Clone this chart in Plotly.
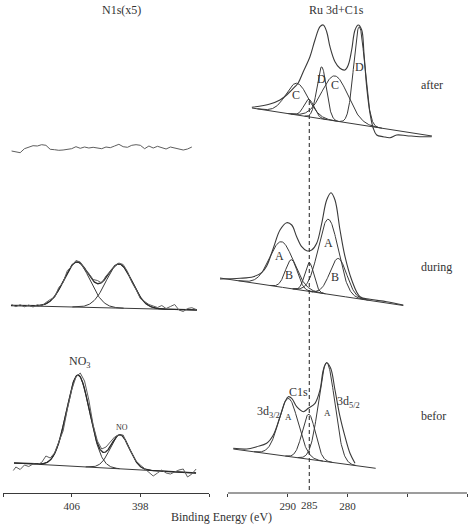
import numpy as np
import plotly.graph_objects as go

W, H = 469, 530
LINE = "#3a3a3a"
RAW = "#5e5e5e"
FONT = "Liberation Serif"

# ---------------- N1s (x5) panel : binding energy (eV) / intensity ----------------
n1s_after_E = np.arange(413.0, 391.9, -0.5)
n1s_after_I = [342, 341.3, 340.3, 344.3, 345.7, 347.3, 347, 348.3, 347.7, 343.7, 343.3,
               342.7, 343, 343.7, 344.3, 346.3, 344.7, 346, 345, 345.7, 345, 344.3,
               346, 345.3, 347, 348.7, 346.3, 345.7, 347.7, 348.3, 347.7, 344.3, 347,
               345, 346.7, 345.3, 344, 346, 345, 343.3, 343, 344, 346]

n1s_during_E = np.arange(413.0, 391.4, -0.5)
n1s_during_I = [188.5, 186.4, 188.3, 186.2, 188.0, 186.0, 188.3, 187.0, 190.5, 193.5,
                195.5, 205.5, 210.5, 222.5, 226.5, 232.5, 231, 224, 219.5, 213.5,
                212.5, 210, 217, 222, 226.5, 230, 228.5, 221.5, 211, 203.5, 194.5,
                191.5, 188.5, 187, 185.5, 187.5, 184.5, 186.5, 188.5, 183, 181.5,
                184.5, 185.3, 183.5]
n1s_during_base_E = [413.07, 391.4]
n1s_during_base_I = [187.5, 183.0]
n1s_during_pk_c = [405.38, 400.48]
n1s_during_pk_h = [45.0, 44.0]
n1s_during_pk_s = [1.51, 1.51]

n1s_befor_E = np.concatenate([[412.8], np.arange(412.5, 391.4, -0.5)])
n1s_befor_I = [22.5, 26, 23.5, 28, 26.5, 29, 28.5, 30.5, 37, 35, 40, 52, 62, 84, 103,
               116, 120, 112, 93, 68, 52, 44, 46, 51, 56, 58, 58, 48, 40, 32, 28, 24,
               21, 17, 20, 23, 20, 19, 21, 23, 24, 16, 19, 24]
n1s_befor_base_E = [412.72, 391.51]
n1s_befor_base_I = [30.0, 20.0]
n1s_befor_pk_c = [405.26, 400.37]
n1s_befor_pk_h = [91.5, 34.0]
n1s_befor_pk_s = [1.34, 1.11]

# ---------------- Ru 3d + C1s panel ----------------
ru_after_E = [296.0, 292.97, 291.3, 290.18, 288.79, 288.23, 287.40, 286.28, 285.44,
              284.60, 284.05, 283.48, 282.93, 282.09, 281.26, 280.42, 279.87, 279.30,
              278.74, 278.19, 277.62, 277.24, 276.79, 276.23, 275.68, 275.11, 274.01,
              272.89, 271.77, 270.09, 267.87, 265.91]
ru_after_I = [385.7, 389, 393, 398, 406.3, 410.3, 421.3, 436.3, 453, 466.3, 468, 461.3,
              446.3, 431.3, 424.7, 423, 428, 443, 463, 468, 463, 439.7, 406.3, 379.7,
              364.7, 358, 356.3, 355.3, 358, 357.3, 356.3, 356.3]
ru_after_base_E = [295.98, 265.86]
ru_after_base_I = [385.0, 357.0]
ru_after_pk_c = [288.45, 286.45, 284.32, 282.09, 278.03]
ru_after_pk_h = [31.7, 17.5, 52.0, 45.0, 98.0]
ru_after_pk_s = [1.84, 0.84, 0.79, 2.18, 0.92]

ru_during_E = [301.33, 297.98, 295.76, 294.35, 293.52, 292.41, 291.29, 290.17, 289.33,
               288.50, 287.66, 286.82, 285.99, 285.15, 284.31, 283.48, 282.76, 282.09,
               281.25, 280.41, 279.29, 277.90, 276.23, 273.44, 270.66]
ru_during_I = [214, 214.7, 216.3, 220.3, 227, 244.7, 263, 270.3, 268, 256.3, 246.3,
               242.3, 243, 249.7, 269.7, 293, 300.3, 293, 263, 236.3, 213, 196.3,
               193.7, 191.3, 188]
ru_during_base_E = [301.33, 270.66]
ru_during_base_I = [215.0, 187.5]
ru_during_pk_c = [291.04, 289.37, 286.39, 283.2, 281.53]
ru_during_pk_h = [45.5, 29.0, 28.8, 75.0, 37.3]
ru_during_pk_s = [2.0, 1.0, 0.75, 1.67, 1.4]

ru_befor_E = [299.11, 296.86, 295.19, 293.52, 292.41, 291.29, 290.45, 289.90, 289.33,
              288.50, 287.39, 286.56, 285.43, 284.60, 284.04, 283.48, 282.81, 282.09,
              281.25, 280.41, 279.58, 278.74]
ru_befor_I = [44.7, 44, 46.3, 49.7, 58, 76.3, 91.3, 96.3, 94.7, 86.3, 81.3, 84.7, 89.7,
              103, 123, 130.3, 124.7, 103, 76.3, 56.3, 39.7, 29.7]
ru_befor_base_E = [299.11, 275.28]
ru_befor_base_I = [44.0, 24.7]
ru_befor_pk_c = [289.87, 286.47, 283.48]
ru_befor_pk_h = [58.0, 45.0, 99.0]
ru_befor_pk_s = [1.6, 1.09, 1.35]

c1s_ref_E = 286.39          # dashed reference line
c1s_ref_top = 392.0

left_ticks = [406, 398]
left_ticktext = ["406", "398"]
left_minor = [414, 390]
right_ticks = [290, 280]
right_ticktext = ["290", "280"]
right_minor = [300, 270, 260]


def lin(E, bE, bI):
    s = (bI[1] - bI[0]) / (bE[1] - bE[0])
    return bI[0] + s * (np.asarray(E) - bE[0])


def gauss(E, c, h, s):
    return h * np.exp(-(np.asarray(E) - c) ** 2 / (2 * s * s))


fig = go.Figure()


def add(x, y, ax, color=LINE, width=1.0, shape="linear", dash=None):
    fig.add_trace(go.Scatter(x=x, y=y, mode="lines", xaxis="x" if ax == 1 else "x2",
                             yaxis="y" if ax == 1 else "y2",
                             line=dict(color=color, width=width, shape=shape, dash=dash),
                             hoverinfo="skip", showlegend=False))


def add_fit(bE, bI, cs, hs, ss, ax, envelope):
    E = np.linspace(max(bE), min(bE), 500)
    add(E, lin(E, bE, bI), ax, width=1.0)
    for c, h, s in zip(cs, hs, ss):
        Ec = np.linspace(c + 3.6 * s, c - 3.6 * s, 150)
        add(Ec, lin(Ec, bE, bI) + gauss(Ec, c, h, s), ax, width=1.0)
    if envelope:
        tot = lin(E, bE, bI) + sum(gauss(E, c, h, s) for c, h, s in zip(cs, hs, ss))
        add(E, tot, ax, color="#2a2a2a", width=1.3)


# left panel
add(n1s_after_E, n1s_after_I, 1, color=RAW, width=1.0)
add_fit(n1s_during_base_E, n1s_during_base_I, n1s_during_pk_c, n1s_during_pk_h,
        n1s_during_pk_s, 1, True)
add(n1s_during_E, n1s_during_I, 1, color=RAW, width=1.0)
add_fit(n1s_befor_base_E, n1s_befor_base_I, n1s_befor_pk_c, n1s_befor_pk_h,
        n1s_befor_pk_s, 1, True)
add(n1s_befor_E, n1s_befor_I, 1, color=RAW, width=1.0)

# right panel
add_fit(ru_after_base_E, ru_after_base_I, ru_after_pk_c, ru_after_pk_h, ru_after_pk_s, 2, False)
add(ru_after_E, ru_after_I, 2, width=1.1, shape="spline")
add_fit(ru_during_base_E, ru_during_base_I, ru_during_pk_c, ru_during_pk_h, ru_during_pk_s, 2, False)
add(ru_during_E, ru_during_I, 2, width=1.1, shape="spline")
add_fit(ru_befor_base_E, ru_befor_base_I, ru_befor_pk_c, ru_befor_pk_h, ru_befor_pk_s, 2, False)
add(ru_befor_E, ru_befor_I, 2, width=1.1, shape="spline")

# dashed C1s line
add([c1s_ref_E, c1s_ref_E], [c1s_ref_top, 3], 2, color="#333", width=1.1, dash="4px,3px")

L_DOM = [3 / W, 209 / W]
R_DOM = [216 / W, 467 / W]
R_RANGE = [302.0, 260.0]


def r2paper(E):
    f = (E - R_RANGE[0]) / (R_RANGE[1] - R_RANGE[0])
    return R_DOM[0] + f * (R_DOM[1] - R_DOM[0])


fig.add_shape(type="line", xref="paper", yref="paper", x0=r2paper(300), x1=r2paper(260),
              y0=0, y1=0, line=dict(color=LINE, width=1))

axis_common = dict(ticks="outside", ticklen=3, tickcolor=LINE, tickwidth=1,
                   showgrid=False, zeroline=False, tickmode="array",
                   tickfont=dict(family=FONT, size=11, color="#333"))
fig.update_layout(
    width=W, height=H, margin=dict(l=0, r=0, t=0, b=37),
    paper_bgcolor="white", plot_bgcolor="white", showlegend=False,
    xaxis=dict(domain=L_DOM, range=[414, 390], tickvals=left_ticks, ticktext=left_ticktext,
               minor=dict(tickmode="array", tickvals=left_minor, ticks="outside", ticklen=3,
                          tickcolor=LINE, tickwidth=1, showgrid=False),
               showline=True, linecolor=LINE, linewidth=1, anchor="y", **axis_common),
    yaxis=dict(domain=[0, 1], range=[0, 493], visible=False),
    xaxis2=dict(domain=R_DOM, range=R_RANGE, tickvals=right_ticks, ticktext=right_ticktext,
                minor=dict(tickmode="array", tickvals=right_minor, ticks="outside", ticklen=3,
                           tickcolor=LINE, tickwidth=1, showgrid=False),
                showline=False, anchor="y2", **axis_common),
    yaxis2=dict(domain=[0, 1], range=[0, 493], visible=False, anchor="x2"),
)


def py(p):
    return (493 - p) / 493


ann = []
tf = dict(family=FONT, color="#333")


def A(text, x, y, xref, yref, size, xanchor="center"):
    ann.append(dict(text=text, x=x, y=y, xref=xref, yref=yref, xanchor=xanchor,
                    yanchor="middle", font=dict(size=size, **tf), showarrow=False))


# titles and row labels
A("N1s(x5)", 121.7 / W, py(10), "paper", "paper", 12)
A("Ru 3d+C1s", 336.7 / W, py(10), "paper", "paper", 12)
for t, yy in [("after", 85), ("during", 266.7), ("befor", 416)]:
    A(t, 419 / W, py(yy), "paper", "paper", 12, xanchor="left")
A("Binding Energy (eV)", 221 / W, py(517), "paper", "paper", 12)
A("285", c1s_ref_E, py(505), "x2", "paper", 11)
# peak labels (data coords)
labels = [
    ("NO<sub>3</sub>", 405.03, 131, 1, 12),
    ("NO", 400.14, 66, 1, 8),
    ("C", 288.61, 398, 2, 12), ("D", 284.33, 414, 2, 12),
    ("C", 282.09, 408, 2, 12), ("D", 278.02, 426.3, 2, 12),
    ("A", 291.41, 237, 2, 12), ("B", 289.73, 218, 2, 12),
    ("A", 283.21, 249.7, 2, 12), ("B", 282.09, 215.7, 2, 12),
    ("3d<sub>3/2</sub>", 293.25, 81.3, 2, 12), ("A", 289.9, 76.3, 2, 9),
    ("C1s", 288.23, 101.3, 2, 12), ("3d<sub>5/2</sub>", 279.86, 91.3, 2, 12),
    ("A", 283.37, 79.7, 2, 9),
]
for t, x, y, ax, s in labels:
    A(t, x, y, "x" if ax == 1 else "x2", "y" if ax == 1 else "y2", s)
fig.update_layout(annotations=ann)

fig.write_html("out.html")
